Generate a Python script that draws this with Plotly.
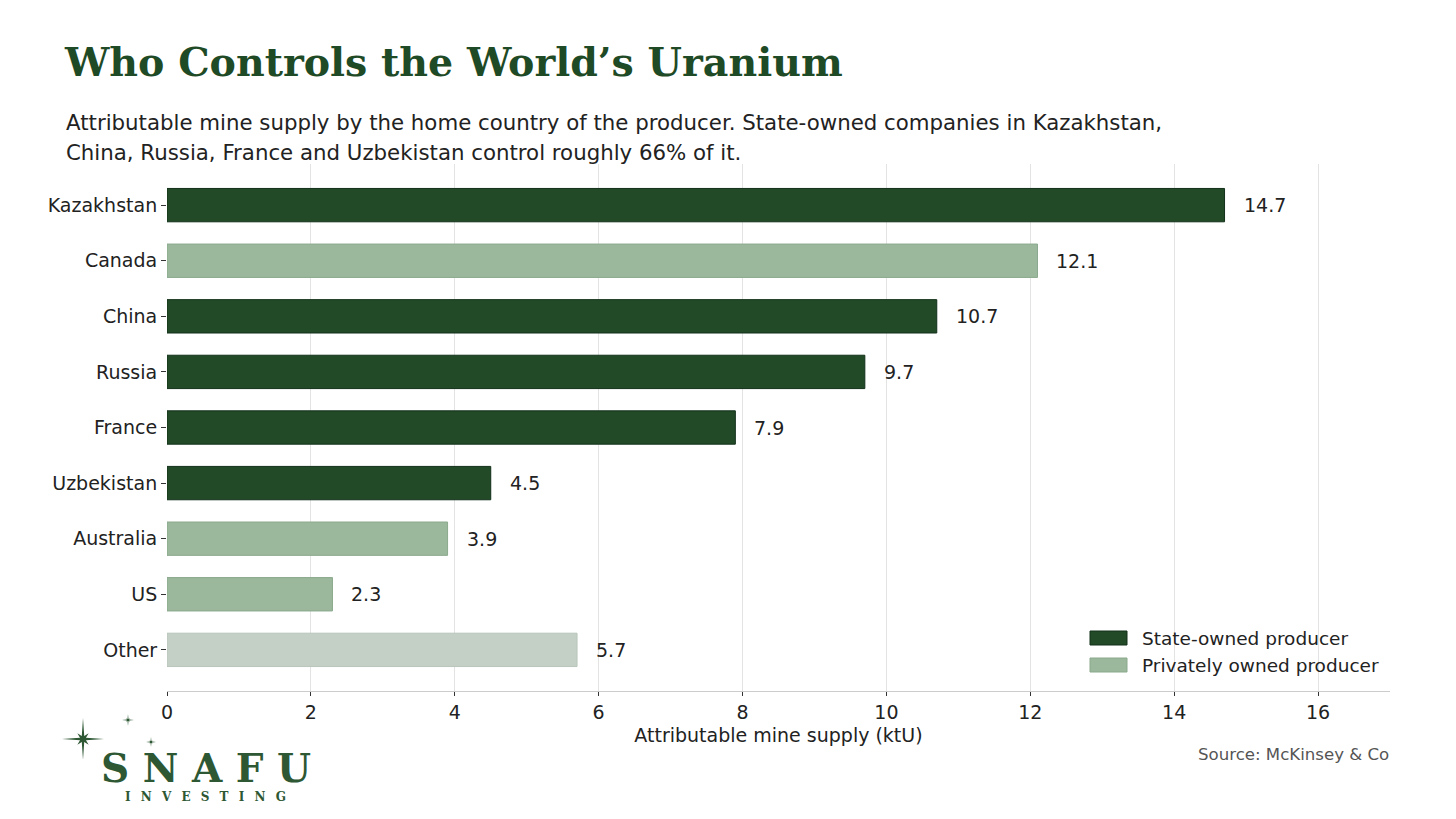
import math
import plotly.graph_objects as go

# ______________________________________________________ #
# Who Controls the World's Uranium - attributable mine supply by producer home country
# ______________________________________________________ #

countries = ["Kazakhstan", "Canada", "China", "Russia", "France", "Uzbekistan", "Australia", "US", "Other"]
supply_ktu = [14.7, 12.1, 10.7, 9.7, 7.9, 4.5, 3.9, 2.3, 5.7]
ownership = ["State", "Private", "State", "State", "State", "State", "Private", "Private", "Other"]

x_ticks = [0, 2, 4, 6, 8, 10, 12, 14, 16]

# the page puts the figure 8px in from the corner, so work in screen pixels and subtract that
OFF = 8
W, H = 1456 - 2 * OFF, 819 - 2 * OFF
L, T = 167 - OFF, 164 - OFF
R = W - (1390 - OFF)
B = H - (691 - OFF)
PW, PH = W - L - R, H - T - B


def px(x):
    # screen pixel x -> paper x
    return (x - OFF - L) / PW


def py(y):
    # screen pixel y -> paper y
    return (H - B - (y - OFF)) / PH


def star_path(cx, cy, r_long, r_short, r_in):
    # 8 point star, long points up/down/left/right, short ones on diagonals
    pts = []
    for k in range(16):
        ang = math.pi / 2 - k * math.pi / 8
        if k % 4 == 0:
            r = r_long
        elif k % 2 == 0:
            r = r_short
        else:
            r = r_in
        pts.append((cx + r * math.cos(ang), cy - r * math.sin(ang)))
    return "M " + " L ".join(f"{px(a):.5f},{py(b):.5f}" for a, b in pts) + " Z"


colors = {"State": "#224a27", "Private": "#9bb89d", "Other": "#c4cfc6"}
edges = {"State": "#12301a", "Private": "#8aa98c", "Other": "#b9c6bb"}
names = {"State": "State-owned producer", "Private": "Privately owned producer", "Other": "Other"}

fig = go.Figure()

for grp in ["State", "Private", "Other"]:
    ys = [c for c, o in zip(countries, ownership) if o == grp]
    xs = [v for v, o in zip(supply_ktu, ownership) if o == grp]
    fig.add_trace(go.Bar(
        x=xs, y=ys, orientation="h", name=names[grp],
        marker=dict(color=colors[grp], line=dict(color=edges[grp], width=1)),
        width=0.6, showlegend=False,
    ))

# value labels
for c, v in zip(countries, supply_ktu):
    fig.add_annotation(x=v, y=c, text=f"{v}", showarrow=False, xanchor="left",
                       xshift=17, font=dict(size=19, color="#222222"))

# subtitle
fig.add_annotation(xref="paper", yref="paper", x=px(65), y=py(122), xanchor="left", yanchor="middle",
                   text="Attributable mine supply by the home country of the producer. State-owned companies in Kazakhstan,",
                   showarrow=False, borderpad=0, font=dict(size=21.3, color="#222222"))
fig.add_annotation(xref="paper", yref="paper", x=px(65), y=py(152), xanchor="left", yanchor="middle",
                   text="China, Russia, France and Uzbekistan control roughly 66% of it.",
                   showarrow=False, borderpad=0, font=dict(size=21.3, color="#222222"))

# legend drawn by hand so the swatches are wide rectangles like the original
for grp, ly in [("State", 638), ("Private", 665)]:
    fig.add_shape(type="rect", xref="paper", yref="paper",
                  x0=px(1090), x1=px(1127), y0=py(ly - 7), y1=py(ly + 7),
                  fillcolor=colors[grp], line=dict(color=edges[grp], width=1))
    fig.add_annotation(xref="paper", yref="paper", x=px(1141), y=py(ly), xanchor="left", yanchor="middle",
                       text=names[grp], showarrow=False, borderpad=0,
                       font=dict(size=18.5, color="#222222"))

# source
fig.add_annotation(xref="paper", yref="paper", x=1, y=py(754), xanchor="right", yanchor="middle",
                   text="Source: McKinsey & Co", showarrow=False, borderpad=0,
                   font=dict(size=16.6, color="#555555"))

# logo
logo_green = "#2e5834"
fig.add_annotation(xref="paper", yref="paper", x=px(100), y=py(768), xanchor="left", yanchor="middle",
                   text="<b>" + "\u00a0".join("SNAFU") + "</b>", showarrow=False, borderpad=0,
                   font=dict(size=39, color=logo_green, family="DejaVu Serif"))
fig.add_annotation(xref="paper", yref="paper", x=px(124), y=py(797), xanchor="left", yanchor="middle",
                   text="<b>" + "\u2002\u00a0".join("INVESTING") + "</b>", showarrow=False, borderpad=0,
                   font=dict(size=12, color=logo_green, family="DejaVu Serif"))

for cx, cy, rl, rs, ri in [(83, 739, 21, 8, 3.2), (128, 720, 6, 2.5, 1.2), (151, 742, 5, 2, 1)]:
    fig.add_shape(type="path", xref="paper", yref="paper", path=star_path(cx, cy, rl, rs, ri),
                  fillcolor=logo_green, line=dict(width=0))

fig.update_layout(
    width=W, height=H,
    margin=dict(l=L, r=R, t=T, b=B),
    paper_bgcolor="white", plot_bgcolor="white",
    font=dict(family="DejaVu Sans", size=19, color="#222222"),
    barmode="overlay",
    title=dict(text="<b>Who Controls the World’s Uranium</b>", x=(65 - OFF) / W, xanchor="left", xref="container",
               y=1 - (62 - OFF) / H, yanchor="middle", yref="container",
               font=dict(family="DejaVu Serif", size=39.5, color="#1f4a26")),
    showlegend=False,
)

fig.update_xaxes(range=[0, 17], tickvals=x_ticks, showgrid=True, gridcolor="#e3e3e3", gridwidth=1,
                 showline=True, linecolor="#cccccc", linewidth=1, zeroline=False,
                 ticks="outside", ticklen=4, tickcolor="#333333",
                 tickfont=dict(size=19),
                 title=dict(text="Attributable mine supply (ktU)", font=dict(size=19), standoff=6))
fig.update_yaxes(categoryorder="array", categoryarray=countries, autorange=False,
                 range=[8.74, -0.74], showgrid=False, showline=False, zeroline=False,
                 ticks="outside", ticklen=5, tickcolor="#333333", tickfont=dict(size=19))

fig.write_html("out.html")
